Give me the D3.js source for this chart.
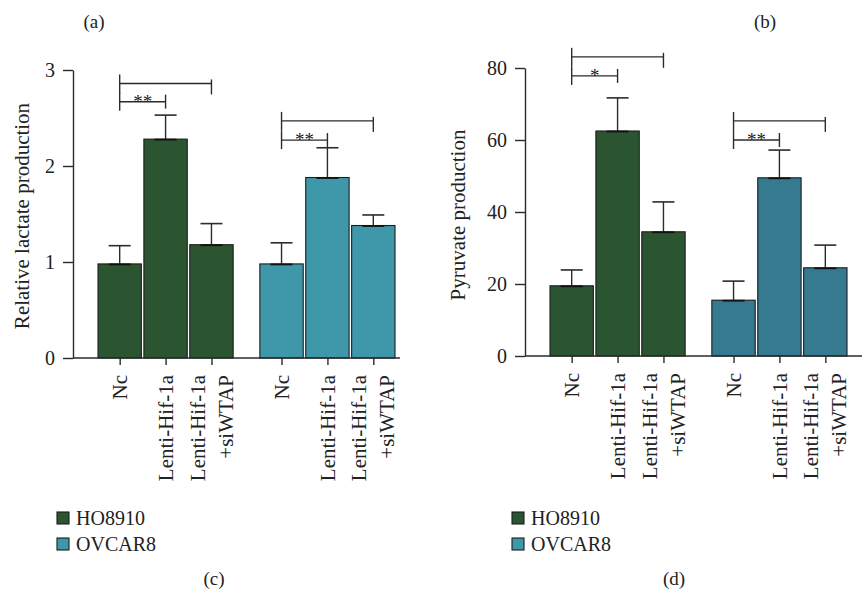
<!DOCTYPE html>
<html><head><meta charset="utf-8">
<script src="https://cdn.jsdelivr.net/npm/d3@7"></script>
<style>
body{margin:0;background:#fff}
text{font-family:"Liberation Serif","Times New Roman",serif;fill:#222}
</style>
</head><body>
<svg id="chart" width="864" height="597"></svg>
<script>
// ---- data ----
const categories = ["Nc", "Lenti-Hif-1a", "Lenti-Hif-1a|+siWTAP"];
const cellLines = ["HO8910", "OVCAR8"];
const lactateHO8910 = [0.98, 2.28, 1.18];
const lactateHO8910Sd = [0.19, 0.25, 0.22];
const lactateOVCAR8 = [0.98, 1.88, 1.38];
const lactateOVCAR8Sd = [0.22, 0.31, 0.11];
const pyruvateHO8910 = [19.5, 62.5, 34.5];
const pyruvateHO8910Sd = [4.4, 9.2, 8.3];
const pyruvateOVCAR8 = [15.5, 49.5, 24.5];
const pyruvateOVCAR8Sd = [5.3, 7.7, 6.3];
const lactateTicks = [0, 1, 2, 3];
const pyruvateTicks = [0, 20, 40, 60, 80];
// significance brackets: group index, from/to category index, level (data units), label
const lactateSig = [
  {g: 0, a: 0, b: 2, level: 2.86, label: ""},
  {g: 0, a: 0, b: 1, level: 2.67, label: "**"},
  {g: 1, a: 0, b: 2, level: 2.47, label: ""},
  {g: 1, a: 0, b: 1, level: 2.27, label: "**"}
];
const pyruvateSig = [
  {g: 0, a: 0, b: 2, level: 83.1, label: ""},
  {g: 0, a: 0, b: 1, level: 77.8, label: "*"},
  {g: 1, a: 0, b: 2, level: 65.3, label: ""},
  {g: 1, a: 0, b: 1, level: 60.0, label: "**"}
];

const svg = d3.select("#chart");
const AX = "#2b2b2b";

function panel(o) {
  const g = svg.append("g");
  const y = d3.scaleLinear().domain(o.domain).range(o.yRange);
  const x0 = d3.scaleBand().domain(cellLines).range(o.xRange).paddingInner(0.165);
  const x1 = d3.scaleBand().domain(d3.range(categories.length)).range([0, x0.bandwidth()]).paddingInner(0.055);
  const cx = (gi, ci) => x0(cellLines[gi]) + x1(ci) + x1.bandwidth() / 2;

  // bars + error bars
  cellLines.forEach((s, si) => {
    const vals = o.values[si], sds = o.sds[si];
    const gg = g.append("g");
    const rows = vals.map((v, i) => ({v, sd: sds[i], i}));
    gg.selectAll("rect").data(rows).join("rect")
      .attr("x", d => x0(s) + x1(d.i))
      .attr("y", d => y(d.v))
      .attr("width", x1.bandwidth())
      .attr("height", d => y(0) - y(d.v))
      .attr("fill", o.colors[si])
      .attr("stroke", "#1c1c1c").attr("stroke-width", 1.1);
    const cap = 11;
    gg.selectAll("line.eb").data(rows).join("line").attr("class", "eb")
      .attr("x1", d => cx(si, d.i)).attr("x2", d => cx(si, d.i))
      .attr("y1", d => y(d.v)).attr("y2", d => y(d.v + d.sd))
      .attr("stroke", AX).attr("stroke-width", 1.4);
    gg.selectAll("line.cap").data(rows).join("line").attr("class", "cap")
      .attr("x1", d => cx(si, d.i) - cap).attr("x2", d => cx(si, d.i) + cap)
      .attr("y1", d => y(d.v + d.sd)).attr("y2", d => y(d.v + d.sd))
      .attr("stroke", AX).attr("stroke-width", 1.6);
    gg.selectAll("line.lcap").data(rows).join("line").attr("class", "lcap")
      .attr("x1", d => cx(si, d.i) - cap).attr("x2", d => cx(si, d.i) + cap)
      .attr("y1", d => y(d.v) + 0.5).attr("y2", d => y(d.v) + 0.5)
      .attr("stroke", "#111").attr("stroke-width", 1.8);
  });

  // y axis
  const ya = g.append("g").attr("transform", `translate(${o.axisX},0)`)
    .call(d3.axisLeft(y).tickValues(o.ticks).tickFormat(d3.format("d")).tickSize(10).tickSizeOuter(0).tickPadding(8));
  ya.select(".domain").attr("stroke", AX).attr("stroke-width", 1.4);
  ya.selectAll(".tick line").attr("stroke", AX).attr("stroke-width", 1.4);
  ya.selectAll(".tick text").attr("font-size", 20).attr("font-family", "Liberation Serif").attr("fill", "#222");

  // x axis
  const keys = [], centers = [];
  cellLines.forEach((s, gi) => categories.forEach((c, ci) => { keys.push(gi + ":" + ci); centers.push(cx(gi, ci)); }));
  const xs = d3.scaleOrdinal().domain(keys).range(centers);
  const xa = g.append("g").attr("transform", `translate(0,${y(0)})`)
    .call(d3.axisBottom(xs).tickSize(7).tickSizeOuter(0).tickFormat(""));
  xa.select(".domain").remove();
  xa.selectAll(".tick line").attr("stroke", AX).attr("stroke-width", 1.4);
  g.append("line").attr("x1", o.axisX).attr("x2", o.axisEnd).attr("y1", y(0)).attr("y2", y(0))
    .attr("stroke", AX).attr("stroke-width", 1.4);

  // x labels (rotated)
  keys.forEach((k, idx) => {
    const ci = +k.split(":")[1];
    const lines = categories[ci].split("|");
    const n = lines.length;
    lines.forEach((t, li) => {
      const off = (li - (n - 1) / 2) * 28;
      g.append("text")
        .attr("transform", `translate(${centers[idx] + off},${y(0) + 17}) rotate(-90)`)
        .attr("text-anchor", "end").attr("dy", "0.34em")
        .attr("font-size", 21).text(t);
    });
  });

  // y label
  g.append("text").attr("transform", `translate(${o.yLabelX},${o.yLabelY}) rotate(-90)`)
    .attr("text-anchor", "middle").attr("dy", "0.34em").attr("font-size", 21).text(o.yLabel);

  // significance brackets
  o.sig.forEach(s => {
    const xa_ = cx(s.g, s.a), xb = cx(s.g, s.b), ly = y(s.level);
    const outer = s.label === "";
    const bg = g.append("g").attr("stroke", AX).attr("stroke-width", 1.4);
    bg.append("line").attr("x1", xa_).attr("x2", xb).attr("y1", ly).attr("y2", ly);
    bg.append("line").attr("x1", xa_).attr("x2", xa_).attr("y1", ly - 9).attr("y2", ly + (outer ? 10 : 9));
    bg.append("line").attr("x1", xb).attr("x2", xb).attr("y1", ly - (outer ? 4 : 7)).attr("y2", ly + (outer ? 11 : 7));
    if (s.label) {
      g.append("text").attr("x", (xa_ + xb) / 2).attr("y", ly + 6)
        .attr("text-anchor", "middle").attr("font-size", 19).attr("fill", "#666").text(s.label);
    }
  });

  // legend
  const lg = g.append("g").attr("transform", `translate(${o.legendX},${o.legendY})`);
  cellLines.forEach((s, si) => {
    lg.append("rect").attr("x", 0).attr("y", si * 26).attr("width", 12).attr("height", 12)
      .attr("fill", o.legendColors[si]).attr("stroke", "#1c1c1c").attr("stroke-width", 1.1);
    lg.append("text").attr("x", 19).attr("y", si * 26 + 6).attr("dy", "0.35em")
      .attr("font-size", 20).text(s);
  });

  // panel letters
  g.append("text").attr("x", o.topLetterX).attr("y", 28).attr("text-anchor", "middle").attr("font-size", 19).text(o.topLetter);
  g.append("text").attr("x", o.botLetterX).attr("y", 585).attr("text-anchor", "middle").attr("font-size", 19).text(o.botLetter);
}

panel({
  domain: [0, 3], yRange: [358, 70], xRange: [98, 395], axisX: 73, axisEnd: 400,
  ticks: lactateTicks,
  values: [lactateHO8910, lactateOVCAR8], sds: [lactateHO8910Sd, lactateOVCAR8Sd],
  colors: ["#2a5530", "#3f97aa"], legendColors: ["#2a5530", "#3f97aa"],
  sig: lactateSig, yLabel: "Relative lactate production", yLabelX: 22, yLabelY: 216,
  legendX: 57, legendY: 512, topLetter: "(a)", topLetterX: 94, botLetter: "(c)", botLetterX: 214
});
panel({
  domain: [0, 80], yRange: [356, 68], xRange: [550, 847], axisX: 525, axisEnd: 862,
  ticks: pyruvateTicks,
  values: [pyruvateHO8910, pyruvateOVCAR8], sds: [pyruvateHO8910Sd, pyruvateOVCAR8Sd],
  colors: ["#2a5530", "#357a8f"], legendColors: ["#2a5530", "#3f97aa"],
  sig: pyruvateSig, yLabel: "Pyruvate production", yLabelX: 458, yLabelY: 215,
  legendX: 512, legendY: 512, topLetter: "(b)", topLetterX: 765, botLetter: "(d)", botLetterX: 674
});
</script>
</body></html>
